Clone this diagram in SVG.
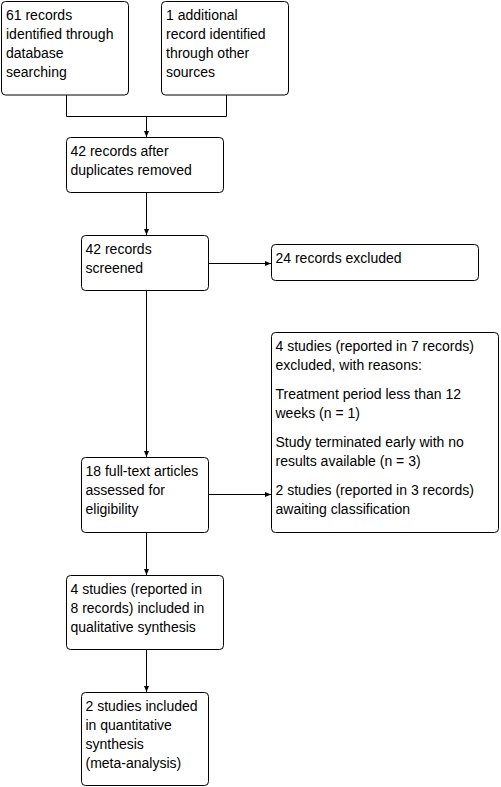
<svg xmlns="http://www.w3.org/2000/svg" width="501" height="787" viewBox="0 0 501 787">
<defs>
<marker id="arr" markerUnits="userSpaceOnUse" markerWidth="7" markerHeight="6" refX="6" refY="2.5" orient="auto">
<path d="M0,0 L6,2.5 L0,5 z" fill="#000"/>
</marker>
<style>
.box{fill:#fff;stroke:#000;stroke-width:1}
.t{font-family:"Liberation Sans",Arial,sans-serif;font-size:14px;fill:#000}
.c{fill:none;stroke:#000;stroke-width:1}
</style>
</defs>
<rect width="501" height="787" fill="#fff"/>
<g id="connectors">
<path class="c" d="M66.5,95 V116.5 H226.5 V95"/>
<path class="c" d="M146.5,116.5 V137" marker-end="url(#arr)"/>
<path class="c" d="M146.5,193 V235" marker-end="url(#arr)"/>
<path class="c" d="M209,263.5 H271" marker-end="url(#arr)"/>
<path class="c" d="M146.5,291 V457" marker-end="url(#arr)"/>
<path class="c" d="M209,494.5 H271" marker-end="url(#arr)"/>
<path class="c" d="M146.5,533 V575" marker-end="url(#arr)"/>
<path class="c" d="M146.5,650 V692" marker-end="url(#arr)"/>
</g>
<g id="n1">
<rect class="box" x="1.5" y="1.5" width="127" height="93.5" rx="4"/>
<text class="t" x="6" y="20">61 records</text>
<text class="t" x="6" y="39">identified through</text>
<text class="t" x="6" y="58">database</text>
<text class="t" x="6" y="77">searching</text>
</g>
<g id="n2">
<rect class="box" x="161.5" y="1.5" width="127" height="93.5" rx="4"/>
<text class="t" x="166" y="20">1 additional</text>
<text class="t" x="166" y="39">record identified</text>
<text class="t" x="166" y="58">through other</text>
<text class="t" x="166" y="77">sources</text>
</g>
<g id="n3">
<rect class="box" x="66.5" y="137.5" width="157" height="55" rx="4"/>
<text class="t" x="70.5" y="156">42 records after</text>
<text class="t" x="70.5" y="175">duplicates removed</text>
</g>
<g id="n4">
<rect class="box" x="81.5" y="235.5" width="127" height="55" rx="4"/>
<text class="t" x="85.5" y="254">42 records</text>
<text class="t" x="85.5" y="273">screened</text>
</g>
<g id="n5">
<rect class="box" x="271.5" y="244.5" width="207" height="36" rx="4"/>
<text class="t" x="275.5" y="263">24 records excluded</text>
</g>
<g id="n6">
<rect class="box" x="271.5" y="332.5" width="227" height="200" rx="4"/>
<text class="t" x="275.5" y="351">4 studies (reported in 7 records)</text>
<text class="t" x="275.5" y="370">excluded, with reasons:</text>
<text class="t" x="275.5" y="399">Treatment period less than 12</text>
<text class="t" x="275.5" y="418">weeks (n = 1)</text>
<text class="t" x="275.5" y="447">Study terminated early with no</text>
<text class="t" x="275.5" y="466">results available (n = 3)</text>
<text class="t" x="275.5" y="495">2 studies (reported in 3 records)</text>
<text class="t" x="275.5" y="514">awaiting classification</text>
</g>
<g id="n7">
<rect class="box" x="81.5" y="457.5" width="127" height="75" rx="4"/>
<text class="t" x="85.5" y="476">18 full-text articles</text>
<text class="t" x="85.5" y="495">assessed for</text>
<text class="t" x="85.5" y="514">eligibility</text>
</g>
<g id="n8">
<rect class="box" x="66.5" y="575.5" width="157" height="74" rx="4"/>
<text class="t" x="70.5" y="594">4 studies (reported in</text>
<text class="t" x="70.5" y="613">8 records) included in</text>
<text class="t" x="70.5" y="632">qualitative synthesis</text>
</g>
<g id="n9">
<rect class="box" x="81.5" y="692.5" width="127" height="93" rx="4"/>
<text class="t" x="85.5" y="711">2 studies included</text>
<text class="t" x="85.5" y="730">in quantitative</text>
<text class="t" x="85.5" y="749">synthesis</text>
<text class="t" x="85.5" y="768">(meta-analysis)</text>
</g>
</svg>
